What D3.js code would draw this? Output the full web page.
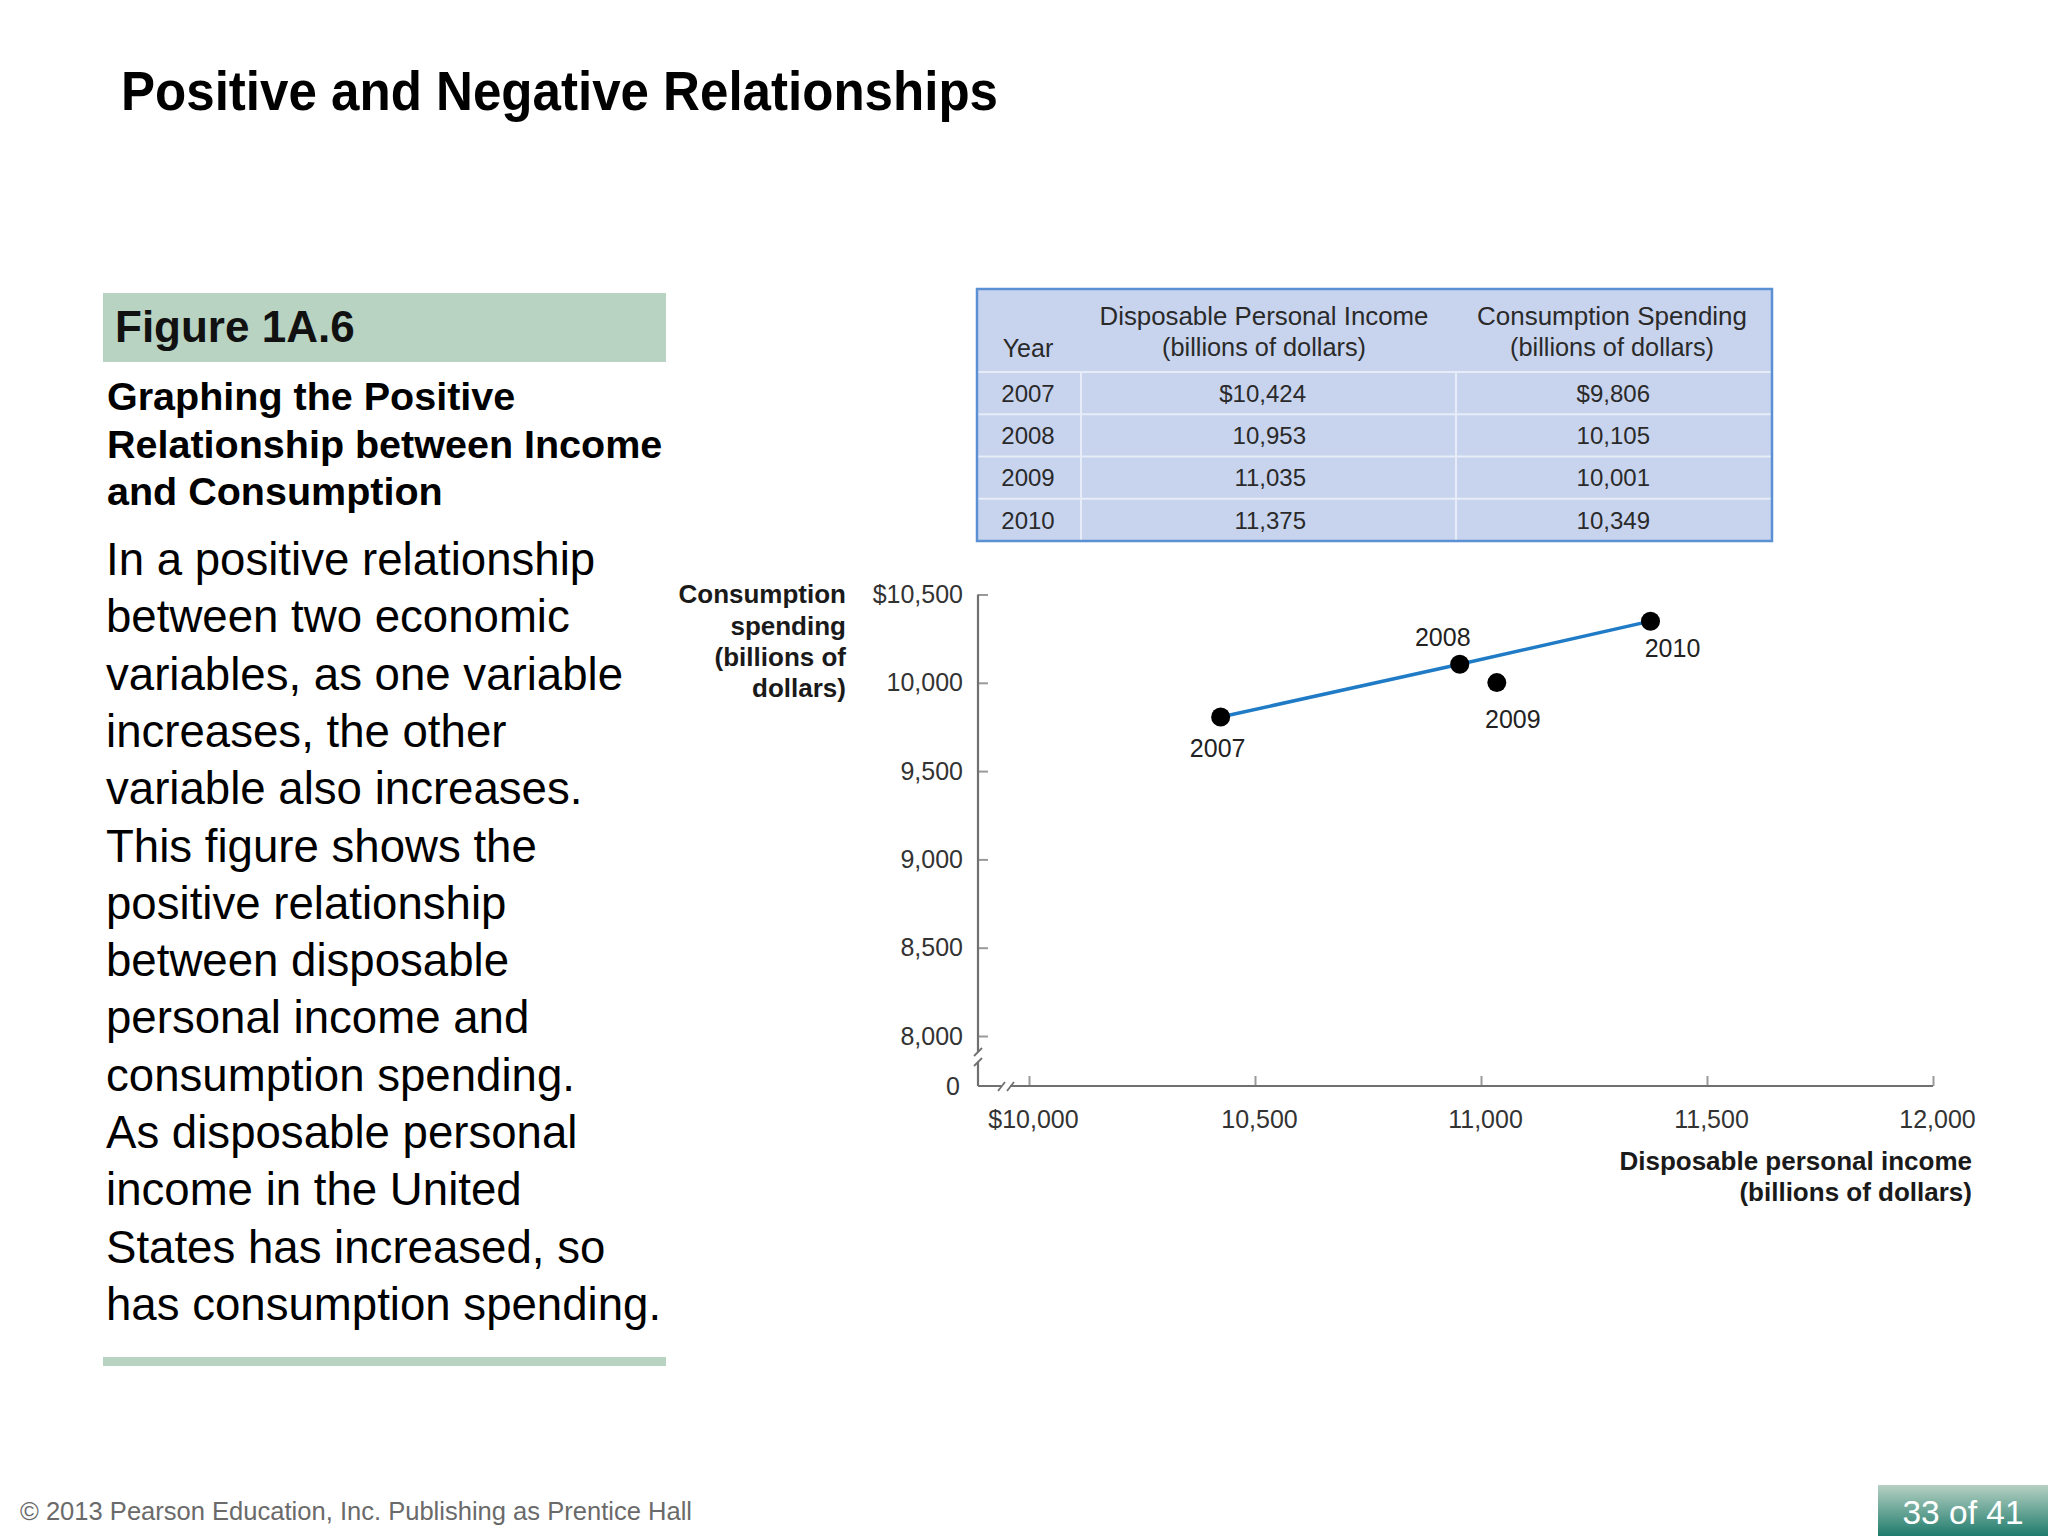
<!DOCTYPE html>
<html><head><meta charset="utf-8">
<script src="https://cdn.jsdelivr.net/npm/d3@7"></script>
<style>
html,body{margin:0;padding:0;background:#fff;}
svg{display:block;font-family:"Liberation Sans",Arial,Helvetica,sans-serif;}
</style></head>
<body>
<svg id="slide" width="2048" height="1536"></svg>
<script>
// ---------- data ----------
const years = ["2007", "2008", "2009", "2010"];
const income = [10424, 10953, 11035, 11375];
const consumption = [9806, 10105, 10001, 10349];
const lineYears = ["2007", "2008", "2010"];
const incomeLabels = ["$10,424", "10,953", "11,035", "11,375"];
const consumptionLabels = ["$9,806", "10,105", "10,001", "10,349"];
const xTicks = [10000, 10500, 11000, 11500, 12000];
const xTickLabels = ["$10,000", "10,500", "11,000", "11,500", "12,000"];
const yTicks = [8000, 8500, 9000, 9500, 10000, 10500];
const yTickLabels = ["8,000", "8,500", "9,000", "9,500", "10,000", "$10,500"];
const bodyLines = [
  "In a positive relationship",
  "between two economic",
  "variables, as one variable",
  "increases, the other",
  "variable also increases.",
  "This figure shows the",
  "positive relationship",
  "between disposable",
  "personal income and",
  "consumption spending.",
  "As disposable personal",
  "income in the United",
  "States has increased, so",
  "has consumption spending."
];
const subtitleLines = ["Graphing the Positive", "Relationship between Income", "and Consumption"];
const yTitleLines = ["Consumption", "spending", "(billions of", "dollars)"];
const xTitleLines = ["Disposable personal income", "(billions of dollars)"];

// ---------- layout ----------
const svg = d3.select("#slide");
svg.append("rect").attr("width", 2048).attr("height", 1536).attr("fill", "#ffffff");

// Title
svg.append("text").attr("x", 121).attr("y", 110)
  .attr("font-size", 56).attr("font-weight", "bold").attr("fill", "#000")
  .attr("textLength", 877).attr("lengthAdjust", "spacingAndGlyphs")
  .text("Positive and Negative Relationships");

// Figure label box
svg.append("rect").attr("x", 103).attr("y", 293).attr("width", 563).attr("height", 69).attr("fill", "#b9d3c3");
svg.append("text").attr("x", 115).attr("y", 342).attr("font-size", 44).attr("font-weight", "bold")
  .attr("fill", "#111").text("Figure 1A.6");

svg.append("g").selectAll("text").data(subtitleLines).join("text")
  .attr("x", 107).attr("y", (d, i) => 410 + i * 47.5)
  .attr("font-size", 39.5).attr("font-weight", "bold").attr("fill", "#000").text(d => d);

svg.append("g").selectAll("text").data(bodyLines).join("text")
  .attr("x", 106).attr("y", (d, i) => 575 + i * 57.3)
  .attr("font-size", 45.6).attr("fill", "#000").text(d => d);

svg.append("rect").attr("x", 103).attr("y", 1357).attr("width", 563).attr("height", 9).attr("fill", "#b9d3c3");

// Footer
svg.append("text").attr("x", 20).attr("y", 1520).attr("font-size", 26).attr("fill", "#6a6a6a")
  .attr("textLength", 672).attr("lengthAdjust", "spacingAndGlyphs")
  .text("© 2013 Pearson Education, Inc. Publishing as Prentice Hall");
const defs = svg.append("defs");
const grad = defs.append("linearGradient").attr("id", "pg").attr("x1", 0).attr("y1", 0).attr("x2", 0).attr("y2", 1);
grad.append("stop").attr("offset", "0%").attr("stop-color", "#b6d1c3");
grad.append("stop").attr("offset", "100%").attr("stop-color", "#1f7b6c");
svg.append("rect").attr("x", 1878).attr("y", 1485).attr("width", 170).attr("height", 51).attr("fill", "url(#pg)");
svg.append("text").attr("x", 1963).attr("y", 1524).attr("text-anchor", "middle").attr("font-size", 34)
  .attr("fill", "#fff").attr("textLength", 121).attr("lengthAdjust", "spacingAndGlyphs").text("33 of 41");

// ---------- table ----------
const tb = svg.append("g");
const tX0 = 977, tX1 = 1772, tY0 = 289, tY1 = 541, colA = 1081, colB = 1456, headB = 372;
const rowBand = d3.scaleBand().domain(years).range([headB, tY1]);
tb.append("rect").attr("x", tX0).attr("y", tY0).attr("width", tX1 - tX0).attr("height", tY1 - tY0)
  .attr("fill", "#c8d4ee");
// inner grid
tb.selectAll("line.h").data(years).join("line").attr("class", "h")
  .attr("x1", tX0).attr("x2", tX1).attr("y1", d => rowBand(d)).attr("y2", d => rowBand(d))
  .attr("stroke", "#e6ecf8").attr("stroke-width", 2);
[colA, colB].forEach(cx => tb.append("line").attr("x1", cx).attr("x2", cx).attr("y1", headB).attr("y2", tY1)
  .attr("stroke", "#e6ecf8").attr("stroke-width", 2));
tb.append("rect").attr("x", tX0).attr("y", tY0).attr("width", tX1 - tX0).attr("height", tY1 - tY0)
  .attr("fill", "none").attr("stroke", "#5b90d4").attr("stroke-width", 2.5);
const tcol = "#2a2a2a";
tb.append("text").attr("x", 1028).attr("y", 357).attr("text-anchor", "middle").attr("font-size", 25).attr("fill", tcol).text("Year");
tb.append("text").attr("x", 1264).attr("y", 325).attr("text-anchor", "middle").attr("font-size", 26).attr("fill", tcol)
  .attr("textLength", 329).attr("lengthAdjust", "spacingAndGlyphs").text("Disposable Personal Income");
tb.append("text").attr("x", 1264).attr("y", 356).attr("text-anchor", "middle").attr("font-size", 26).attr("fill", tcol)
  .attr("textLength", 204).attr("lengthAdjust", "spacingAndGlyphs").text("(billions of dollars)");
tb.append("text").attr("x", 1612).attr("y", 325).attr("text-anchor", "middle").attr("font-size", 26).attr("fill", tcol)
  .attr("textLength", 270).attr("lengthAdjust", "spacingAndGlyphs").text("Consumption Spending");
tb.append("text").attr("x", 1612).attr("y", 356).attr("text-anchor", "middle").attr("font-size", 26).attr("fill", tcol)
  .attr("textLength", 204).attr("lengthAdjust", "spacingAndGlyphs").text("(billions of dollars)");
const rowMid = d => rowBand(d) + rowBand.bandwidth() / 2;
tb.selectAll("text.yr").data(years).join("text").attr("class", "yr")
  .attr("x", 1028).attr("y", d => rowMid(d)).attr("dy", "0.36em").attr("text-anchor", "middle")
  .attr("font-size", 24).attr("fill", tcol).text(d => d);
tb.selectAll("text.inc").data(incomeLabels).join("text").attr("class", "inc")
  .attr("x", 1306).attr("y", (d, i) => rowMid(years[i])).attr("dy", "0.36em").attr("text-anchor", "end")
  .attr("font-size", 24).attr("fill", tcol).text(d => d);
tb.selectAll("text.con").data(consumptionLabels).join("text").attr("class", "con")
  .attr("x", 1650).attr("y", (d, i) => rowMid(years[i])).attr("dy", "0.36em").attr("text-anchor", "end")
  .attr("font-size", 24).attr("fill", tcol).text(d => d);

// ---------- chart ----------
const x = d3.scaleLinear().domain([10000, 12000]).range([1029, 1933]);
const y = d3.scaleLinear().domain([8000, 10500]).range([1036, 594.5]);
const axisX0 = 978, baseY = 1086;
const axisCol = "#707070";
const ch = svg.append("g");

// y axis ticks & labels
const yAxis = ch.append("g").attr("transform", `translate(${axisX0},0)`)
  .call(d3.axisLeft(y).tickValues(yTicks).tickSize(-10).tickSizeOuter(0).tickPadding(15)
    .tickFormat((d, i) => yTickLabels[i]));
yAxis.select(".domain").remove();
yAxis.selectAll(".tick line").attr("stroke", "#9a9a9a").attr("stroke-width", 2);
yAxis.selectAll(".tick text").attr("font-size", 25).attr("fill", "#333").attr("font-family", "Liberation Sans, Arial, sans-serif");

// x axis ticks & labels
const xAxis = ch.append("g").attr("transform", `translate(0,${baseY})`)
  .call(d3.axisBottom(x).tickValues(xTicks).tickSize(-10).tickSizeOuter(0).tickPadding(24)
    .tickFormat((d, i) => xTickLabels[i]));
xAxis.select(".domain").remove();
xAxis.selectAll(".tick line").attr("stroke", "#9a9a9a").attr("stroke-width", 2);
xAxis.selectAll(".tick text").attr("font-size", 25).attr("fill", "#333").attr("dx", 4).attr("font-family", "Liberation Sans, Arial, sans-serif");

// axis lines (with breaks)
ch.append("line").attr("x1", axisX0).attr("x2", axisX0).attr("y1", y(10500)).attr("y2", baseY)
  .attr("stroke", axisCol).attr("stroke-width", 2.2);
ch.append("line").attr("x1", axisX0).attr("x2", x(12000)).attr("y1", baseY).attr("y2", baseY)
  .attr("stroke", axisCol).attr("stroke-width", 2.2);
// y break
ch.append("rect").attr("x", axisX0 - 4).attr("y", 1052).attr("width", 8).attr("height", 10).attr("fill", "#fff");
[1050, 1060].forEach(by => ch.append("line").attr("x1", axisX0 - 4).attr("x2", axisX0 + 4)
  .attr("y1", by + 6).attr("y2", by - 2).attr("stroke", axisCol).attr("stroke-width", 1.8));
// x break
ch.append("rect").attr("x", 1001).attr("y", baseY - 4).attr("width", 9).attr("height", 8).attr("fill", "#fff");
[1000, 1009].forEach(bx => ch.append("line").attr("x1", bx - 2).attr("x2", bx + 5)
  .attr("y1", baseY + 5).attr("y2", baseY - 4).attr("stroke", axisCol).attr("stroke-width", 1.8));
ch.append("text").attr("x", 953).attr("y", baseY).attr("dy", "0.36em").attr("text-anchor", "middle")
  .attr("font-size", 25).attr("fill", "#333").text("0");

// axis titles
ch.append("g").selectAll("text").data(yTitleLines).join("text")
  .attr("x", 846).attr("y", (d, i) => 594 + i * 31.3).attr("dy", "0.36em").attr("text-anchor", "end")
  .attr("font-size", 26).attr("font-weight", "bold").attr("fill", "#1a1a1a").text(d => d);
ch.append("g").selectAll("text").data(xTitleLines).join("text")
  .attr("x", 1972).attr("y", (d, i) => 1161 + i * 31).attr("dy", "0.36em").attr("text-anchor", "end")
  .attr("font-size", 26).attr("font-weight", "bold").attr("fill", "#1a1a1a").text(d => d);

// line
const pts = years.map((yr, i) => ({ yr, inc: income[i], con: consumption[i] }));
const linePts = pts.filter(p => lineYears.includes(p.yr));
ch.append("path").datum(linePts)
  .attr("d", d3.line().x(p => x(p.inc)).y(p => y(p.con)))
  .attr("fill", "none").attr("stroke", "#1f7bc6").attr("stroke-width", 3.5);
ch.selectAll("circle.pt").data(pts).join("circle").attr("class", "pt")
  .attr("cx", p => x(p.inc)).attr("cy", p => y(p.con)).attr("r", 9.5).attr("fill", "#000");

const labelOffsets = [[-3, 31], [-17, -27], [16, 36], [22, 27]];
ch.selectAll("text.pl").data(pts).join("text").attr("class", "pl")
  .attr("x", (p, i) => x(p.inc) + labelOffsets[i][0])
  .attr("y", (p, i) => y(p.con) + labelOffsets[i][1])
  .attr("dy", "0.36em").attr("text-anchor", "middle")
  .attr("font-size", 25).attr("fill", "#222").text(p => p.yr);
</script>
</body></html>
